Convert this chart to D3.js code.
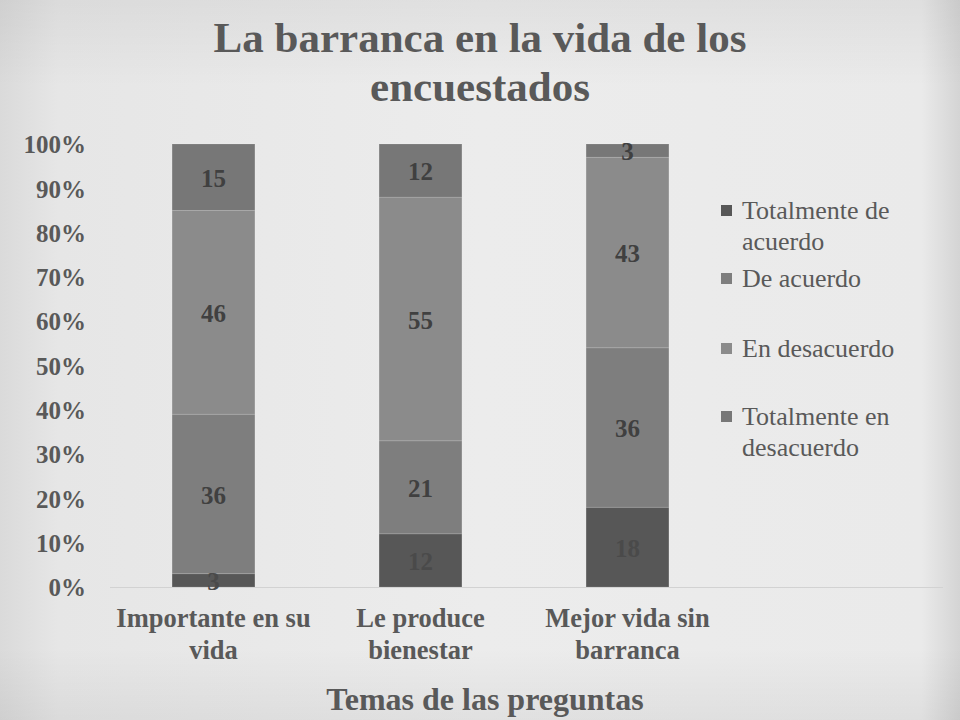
<!DOCTYPE html>
<html>
<head>
<meta charset="utf-8">
<script src="https://cdn.jsdelivr.net/npm/d3@7"></script>
<style>
html,body{margin:0;padding:0;background:#e9e9e9;}
svg{display:block;}
</style>
</head>
<body>
<svg id="chart" width="960" height="720"></svg>
<script>
const categories = [["Importante en su","vida"],["Le produce","bienestar"],["Mejor vida sin","barranca"]];
const seriesNames = [["Totalmente de","acuerdo"],["De acuerdo"],["En desacuerdo"],["Totalmente en","desacuerdo"]];
const totalmenteDeAcuerdo = [3, 12, 18];
const deAcuerdo = [36, 21, 36];
const enDesacuerdo = [46, 55, 43];
const totalmenteEnDesacuerdo = [15, 12, 3];
const tickValues = [0,10,20,30,40,50,60,70,80,90,100];
const colors = ["#575757","#7e7e7e","#8b8b8b","#777777"];
const titleLines = ["La barranca en la vida de los","encuestados"];
const axisTitle = "Temas de las preguntas";

const svg = d3.select("#chart");
const defs = svg.append("defs");
const gh = defs.append("linearGradient").attr("id","bgH").attr("x1","0").attr("x2","1").attr("y1","0").attr("y2","0");
gh.append("stop").attr("offset","0").attr("stop-color","#dadada");
gh.append("stop").attr("offset","0.06").attr("stop-color","#e6e6e6");
gh.append("stop").attr("offset","0.5").attr("stop-color","#ececec");
gh.append("stop").attr("offset","0.96").attr("stop-color","#eaeaea");
gh.append("stop").attr("offset","1").attr("stop-color","#d4d4d4");
const gv = defs.append("linearGradient").attr("id","bgV").attr("x1","0").attr("x2","0").attr("y1","0").attr("y2","1");
gv.append("stop").attr("offset","0").attr("stop-color","#000").attr("stop-opacity","0.05");
gv.append("stop").attr("offset","0.12").attr("stop-color","#000").attr("stop-opacity","0");
gv.append("stop").attr("offset","0.9").attr("stop-color","#000").attr("stop-opacity","0");
gv.append("stop").attr("offset","1").attr("stop-color","#000").attr("stop-opacity","0.05");
svg.append("rect").attr("width",960).attr("height",720).attr("fill","url(#bgH)");
svg.append("rect").attr("width",960).attr("height",720).attr("fill","url(#bgV)");

const font = "Liberation Serif, Times New Roman, serif";
const textColor = "#595959";

// Title
svg.append("g").selectAll("text").data(titleLines).join("text")
  .attr("x",480).attr("y",(d,i)=>52+i*49)
  .attr("text-anchor","middle")
  .attr("font-family",font).attr("font-weight","bold").attr("font-size",43)
  .attr("fill",textColor).text(d=>d);

const x = d3.scaleBand().domain(d3.range(categories.length)).range([110,731]).paddingInner(0.6).paddingOuter(0.3);
const y = d3.scaleLinear().domain([0,100]).range([587,144]);

// y axis labels
const yAxis = d3.axisLeft(y).tickValues(tickValues).tickFormat(d=>d+"%").tickSize(0).tickPadding(0);
const ya = svg.append("g").attr("transform","translate(86,0)").call(yAxis);
ya.select(".domain").remove();
ya.selectAll("text").attr("font-family",font).attr("font-weight","bold").attr("font-size",25)
  .attr("fill",textColor).attr("dy","0.35em");

// baseline
svg.append("line").attr("x1",110).attr("x2",943).attr("y1",y(0)+0.5).attr("y2",y(0)+0.5)
  .attr("stroke","#d2d2d2").attr("stroke-width",1.2);

// stacked data
const table = categories.map((c,i)=>({i, s0: totalmenteDeAcuerdo[i], s1: deAcuerdo[i], s2: enDesacuerdo[i], s3: totalmenteEnDesacuerdo[i]}));
const stack = d3.stack().keys(["s0","s1","s2","s3"])(table);

const layers = svg.append("g").selectAll("g").data(stack).join("g").attr("fill",(d,i)=>colors[i]);
layers.selectAll("rect").data(d=>d).join("rect")
  .attr("x",d=>x(d.data.i)).attr("width",x.bandwidth())
  .attr("y",d=>y(d[1])).attr("height",d=>y(d[0])-y(d[1]))
  .attr("stroke","rgba(255,255,255,0.12)").attr("stroke-width",1);

// data labels
const lbl = svg.append("g");
stack.forEach((layer,li)=>{
  lbl.selectAll(null).data(layer).join("text")
    .attr("x",d=>x(d.data.i)+x.bandwidth()/2)
    .attr("y",d=>y((d[0]+d[1])/2)+1)
    .attr("dy","0.35em")
    .attr("text-anchor","middle")
    .attr("font-family",font).attr("font-weight","bold").attr("font-size",25)
    .attr("fill", li===0 ? "#4a4a4a" : "#404040")
    .text(d=>d[1]-d[0]);
});

// x axis labels
const xl = svg.append("g");
categories.forEach((lines,i)=>{
  xl.append("g").selectAll("text").data(lines).join("text")
    .attr("x",x(i)+x.bandwidth()/2).attr("y",(d,j)=>627+j*32)
    .attr("text-anchor","middle")
    .attr("font-family",font).attr("font-weight","bold").attr("font-size",26.5)
    .attr("fill",textColor).text(d=>d);
});

// axis title
svg.append("text").attr("x",485).attr("y",710).attr("text-anchor","middle")
  .attr("font-family",font).attr("font-weight","bold").attr("font-size",32)
  .attr("fill",textColor).text(axisTitle);

// legend
const legendY = [210, 278, 348, 416];
const lg = svg.append("g");
seriesNames.forEach((lines,i)=>{
  lg.append("rect").attr("x",721).attr("y",legendY[i]-5).attr("width",11).attr("height",11).attr("fill",colors[i]);
  lg.append("g").selectAll("text").data(lines).join("text")
    .attr("x",742).attr("y",(d,j)=>legendY[i]+j*31).attr("dy","0.35em")
    .attr("font-family",font).attr("font-size",26)
    .attr("fill",textColor).text(d=>d);
});
</script>
</body>
</html>
